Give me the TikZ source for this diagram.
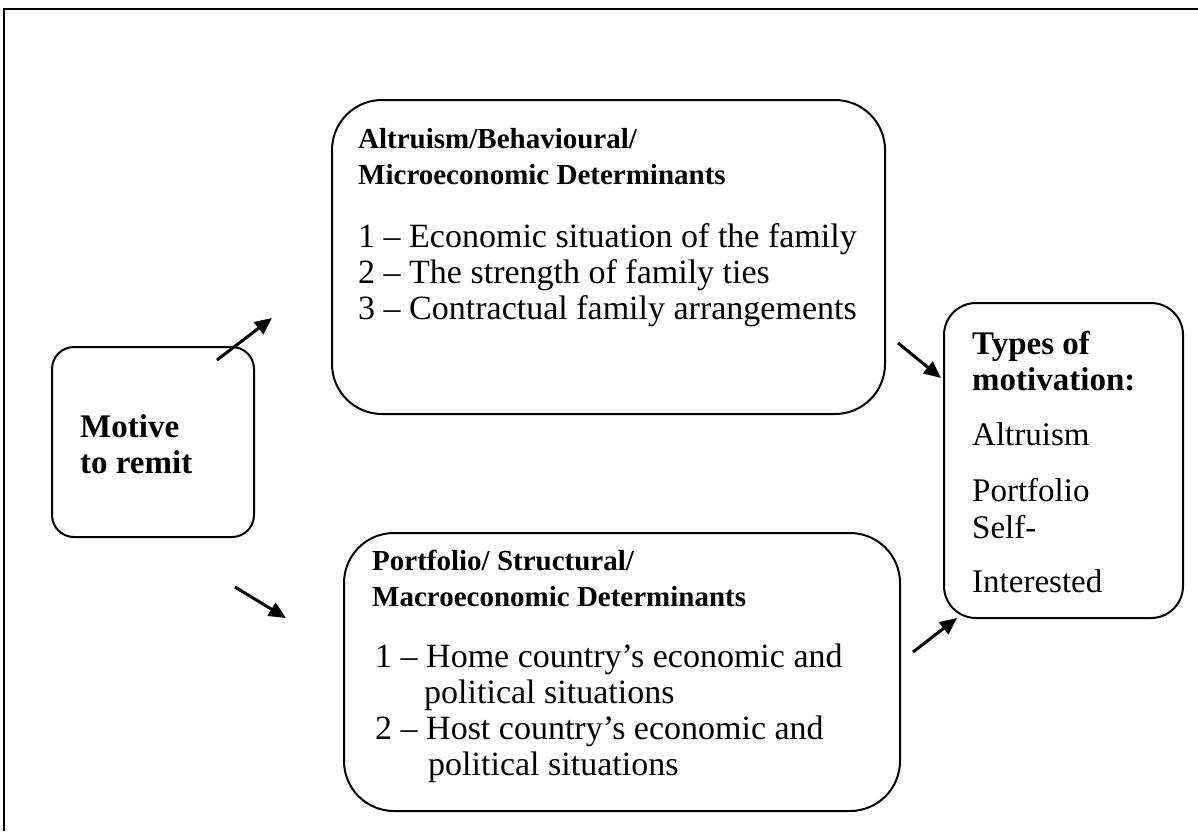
\documentclass[tikz,border=0pt]{standalone}
\usepackage{fontspec}
\setmainfont{Liberation Serif}
\usetikzlibrary{arrows.meta}
\begin{document}
\begin{tikzpicture}[x=1pt,y=-1pt,
  box/.style={draw, line width=2pt, anchor=north west, inner sep=0pt, outer sep=0pt},
  tx/.style={anchor=base west, inner sep=0pt, font=\fontsize{34}{36}\selectfont},
  hx/.style={anchor=base west, inner sep=0pt, font=\fontsize{29}{36}\selectfont\bfseries},
  ty/.style={anchor=base west, inner sep=0pt, font=\fontsize{33}{36}\selectfont},
  bx/.style={anchor=base west, inner sep=0pt, font=\fontsize{33}{36}\selectfont\bfseries},
  arr/.style={line width=3pt, -{Triangle[length=17pt,width=15pt]}},
  frame/.style={line width=2.5pt}
]
\useasboundingbox (0,0) rectangle (1198,831);
\draw[frame] (4,831) -- (4,9) -- (1198,9);

% boxes
\node[box, rounded corners=50pt, minimum width=553pt, minimum height=314pt] (topbox) at (332,100) {};
\node[box, rounded corners=50pt, minimum width=556pt, minimum height=278pt] (botbox) at (344,533) {};
\node[box, rounded corners=22pt, minimum width=202pt, minimum height=190pt] (motive) at (52,347) {};
\node[box, rounded corners=32pt, minimum width=239pt, minimum height=315pt] (types) at (944,303) {};

% top box text
\node[hx] (t1) at (358,148) {Altruism/Behavioural/};
\node[hx] (t2) at (358,184) {Microeconomic Determinants};
\node[tx] (t3) at (358,247) {1 – Economic situation of the family};
\node[tx] (t4) at (358,283) {2 – The strength of family ties};
\node[tx] (t5) at (358,319) {3 – Contractual family arrangements};

% bottom box text
\node[hx] (b1) at (372,570) {Portfolio/ Structural/};
\node[hx] (b2) at (372,606) {Macroeconomic Determinants};
\node[tx] (b3) at (375,667) {1 – Home country’s economic and};
\node[tx] (b4) at (424,703) {political situations};
\node[tx] (b5) at (375,739) {2 – Host country’s economic and};
\node[tx] (b6) at (428,775) {political situations};

% motive text
\node[bx] (m1) at (80,437) {Motive};
\node[bx] (m2) at (80,473) {to remit};

% types text
\node[bx] (y1) at (972,354) {Types of};
\node[bx] (y2) at (972,390) {motivation:};
\node[ty] (y3) at (972,445) {Altruism};
\node[ty] (y4) at (972,501) {Portfolio};
\node[ty] (y5) at (972,538) {Self-};
\node[ty] (y6) at (972,592) {Interested};

% arrows
\coordinate (a1s) at (217,360); \coordinate (a1e) at (272,318);
\coordinate (a2s) at (235,587); \coordinate (a2e) at (286,618);
\coordinate (a3s) at (898,343); \coordinate (a3e) at (941,378);
\coordinate (a4s) at (913,652); \coordinate (a4e) at (957,618);
\draw[arr] (a1s) -- (a1e);
\draw[arr] (a2s) -- (a2e);
\draw[arr] (a3s) -- (a3e);
\draw[arr] (a4s) -- (a4e);
\end{tikzpicture}
\end{document}
